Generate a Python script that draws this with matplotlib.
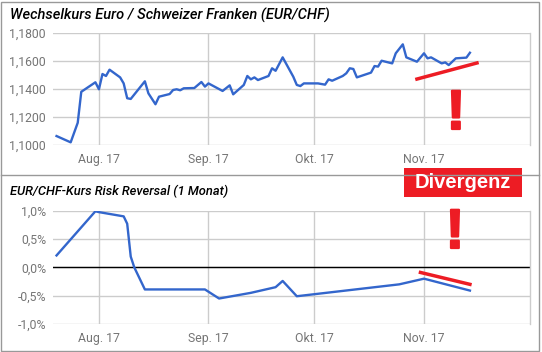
import numpy as np
import matplotlib
matplotlib.use('Agg')
import matplotlib.pyplot as plt
import matplotlib.dates as mdates
import matplotlib.patheffects as pe
from matplotlib.patches import Rectangle
from matplotlib.lines import Line2D


# data

kurs_dates = ['2017-07-20', '2017-07-24', '2017-07-26', '2017-07-27', '2017-07-31',
              '2017-08-01', '2017-08-02', '2017-08-03', '2017-08-04', '2017-08-07',
              '2017-08-08', '2017-08-09', '2017-08-10', '2017-08-14', '2017-08-15',
              '2017-08-17', '2017-08-18', '2017-08-21', '2017-08-22', '2017-08-23',
              '2017-08-24', '2017-08-25', '2017-08-28', '2017-08-30', '2017-08-31',
              '2017-09-01', '2017-09-05', '2017-09-07', '2017-09-08', '2017-09-11',
              '2017-09-12', '2017-09-13', '2017-09-14', '2017-09-15', '2017-09-18',
              '2017-09-19', '2017-09-20', '2017-09-22', '2017-09-25', '2017-09-26',
              '2017-09-27', '2017-09-28', '2017-10-02', '2017-10-04', '2017-10-05',
              '2017-10-06', '2017-10-09', '2017-10-10', '2017-10-11', '2017-10-12',
              '2017-10-13', '2017-10-17', '2017-10-18', '2017-10-19', '2017-10-20',
              '2017-10-23', '2017-10-24', '2017-10-26', '2017-10-27', '2017-10-30',
              '2017-11-01', '2017-11-02', '2017-11-03', '2017-11-06', '2017-11-07',
              '2017-11-08', '2017-11-10', '2017-11-13', '2017-11-14']
kurs_values = [1.1064, 1.1019, 1.1159, 1.1380, 1.1448,
               1.1398, 1.1507, 1.1493, 1.1538, 1.1483,
               1.1440, 1.1334, 1.1329, 1.1455, 1.1369,
               1.1291, 1.1345, 1.1364, 1.1393, 1.1398,
               1.1391, 1.1405, 1.1407, 1.1450, 1.1417,
               1.1440, 1.1386, 1.1426, 1.1362, 1.1429,
               1.1493, 1.1469, 1.1483, 1.1464, 1.1493,
               1.1548, 1.1530, 1.1626, 1.1488, 1.1429,
               1.1421, 1.1440, 1.1440, 1.1431, 1.1469,
               1.1459, 1.1493, 1.1512, 1.1548, 1.1543,
               1.1483, 1.1517, 1.1564, 1.1560, 1.1602,
               1.1583, 1.1655, 1.1719, 1.1626, 1.1595,
               1.1655, 1.1619, 1.1626, 1.1583, 1.1590,
               1.1571, 1.1619, 1.1624, 1.1659]

rr_dates = ['2017-07-20', '2017-07-31', '2017-08-01', '2017-08-08', '2017-08-09',
            '2017-08-10', '2017-08-11', '2017-08-14', '2017-08-31', '2017-09-04',
            '2017-09-13', '2017-09-20', '2017-09-22', '2017-09-26', '2017-10-25',
            '2017-11-01', '2017-11-14']
rr_values = [0.21, 0.99, 0.975, 0.90, 0.77,
             0.19, 0.0, -0.39, -0.39, -0.55,
             -0.45, -0.35, -0.24, -0.51, -0.30,
             -0.20, -0.41]

month_ticks = ['2017-08-01', '2017-09-01', '2017-10-01', '2017-11-01']
month_labels = ['Aug. 17', 'Sep. 17', 'Okt. 17', 'Nov. 17']

kurs_ticks = [1.10, 1.12, 1.14, 1.16, 1.18]
kurs_labels = ['1,1000', '1,1200', '1,1400', '1,1600', '1,1800']
rr_ticks = [-1.0, -0.5, 0.0, 0.5, 1.0]
rr_labels = ['-1,0%', '-0,5%', '0,0%', '0,5%', '1,0%']

# trend marks (date, value)
kurs_trend_dates = ['2017-10-30', '2017-11-16']
kurs_trend_values = [1.1471, 1.1586]
rr_trend_dates = ['2017-10-31', '2017-11-14']
rr_trend_values = [-0.09, -0.30]


# form

W, H = 542, 352
BLUE = '#3366cc'
RED = '#ed1c24'
GRID = '#cccccc'
TXT = '#757575'
plt.rcParams['font.family'] = ['Roboto', 'DejaVu Sans']


def px_ax(l, t, r, b):
	return fig.add_axes([l / W, 1 - b / H, (r - l) / W, (b - t) / H])


def to_dates(lst):
	return mdates.datestr2num(lst)


xlim = to_dates(['2017-07-19', '2017-12-01'])

fig = plt.figure(figsize=(W / 100, H / 100), dpi=100)


def style(ax, ticks, labels, ylim):
	ax.set_xlim(xlim)
	ax.set_ylim(ylim)
	ax.set_xticks(to_dates(month_ticks))
	ax.set_xticklabels(month_labels)
	ax.set_yticks(ticks)
	ax.set_yticklabels(labels)
	ax.tick_params(length=0, labelsize=8.8, colors=TXT, pad=5)
	ax.tick_params(axis='x', pad=6)
	ax.grid(True, color=GRID, linewidth=1)
	ax.set_axisbelow(True)
	for s in ['top', 'left', 'bottom']:
		ax.spines[s].set_visible(False)
	ax.spines['right'].set_color(GRID)
	ax.spines['right'].set_linewidth(1)


ax1 = px_ax(53, 33, 530, 145)
ax1.plot(to_dates(kurs_dates), kurs_values, color=BLUE, linewidth=1.7, zorder=3)
style(ax1, kurs_ticks, kurs_labels, (1.10, 1.18))
ax1.plot(to_dates(kurs_trend_dates), kurs_trend_values, color=RED, linewidth=2.5, zorder=4)

ax2 = px_ax(53, 210.7, 530, 324)
ax2.plot(to_dates(rr_dates), rr_values, color=BLUE, linewidth=1.7, zorder=3)
style(ax2, rr_ticks, rr_labels, (-1.0, 1.0))
ax2.axhline(0, color='black', linewidth=1, zorder=2)
ax2.plot(to_dates(rr_trend_dates), rr_trend_values, color=RED, linewidth=2.5, zorder=4)

# titles
fig.text(10 / W, 1 - 15 / H, 'Wechselkurs Euro / Schweizer Franken (EUR/CHF)',
         fontsize=10.5, fontweight='medium', fontstyle='italic', va='center', ha='left')
fig.text(10 / W, 1 - 191 / H, 'EUR/CHF-Kurs Risk Reversal (1 Monat)',
         fontsize=9.3, fontweight='medium', fontstyle='italic', va='center', ha='left')

# frame
fig.add_artist(Rectangle((1 / W, 1 / H), (W - 4) / W, (H - 3) / H, transform=fig.transFigure,
                         fill=False, edgecolor='#999999', linewidth=1))
fig.add_artist(Line2D([1 / W, (W - 3) / W], [1 - 175 / H, 1 - 175 / H], transform=fig.transFigure,
                      color='#999999', linewidth=1))

# annotation
fig.add_artist(Rectangle((404 / W, 1 - 197 / H), 118 / W, 29 / H, transform=fig.transFigure,
                         facecolor=RED, edgecolor='none'))
fig.text(463 / W, 1 - 183 / H, 'Divergenz', color='white', fontsize=14.5, fontweight='bold',
         family='Liberation Sans', ha='center', va='center')
thick = [pe.withStroke(linewidth=1.6, foreground=RED)]
fig.text(456 / W, 1 - 115 / H, '!', color=RED, fontsize=40, fontweight='bold',
         family='Liberation Sans', ha='center', va='center', path_effects=thick)
fig.text(455 / W, 1 - 234 / H, '!', color=RED, fontsize=40, fontweight='bold',
         family='Liberation Sans', ha='center', va='center', path_effects=thick)

plt.savefig('out.png', dpi=100)
